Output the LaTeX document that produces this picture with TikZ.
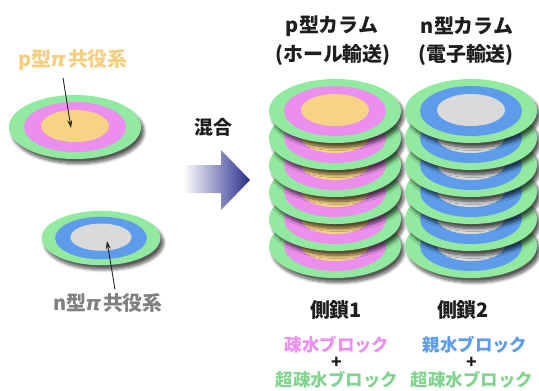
\documentclass[tikz,border=0pt]{standalone}
\usepackage{fontspec}
\newfontfamily\jp{Noto Sans CJK JP}
\newfontfamily\gk{DejaVu Sans}
\usetikzlibrary{arrows.meta,shadows.blur}

\definecolor{ring}{RGB}{146,234,160}
\definecolor{hole}{RGB}{236,142,238}
\definecolor{core}{RGB}{247,212,132}
\definecolor{elec}{RGB}{92,156,234}
\definecolor{gcore}{RGB}{218,218,218}
\definecolor{arrowblue}{RGB}{40,46,140}
\definecolor{ptext}{RGB}{245,206,128}
\definecolor{ntext}{RGB}{128,128,128}
\definecolor{darktext}{RGB}{30,30,30}

\newcommand\pisym{\kern-1bp{\gk\itshape π}\kern2bp}

\tikzset{
  tag/.style={font=\jp\bfseries\fontsize{#1}{#1}\selectfont, inner sep=1bp},
  pointer/.style={draw=black!85, line width=0.9bp, -{Stealth[length=8bp,width=5bp]}},
  pics/disk/.style 2 args={code={
    \fill[ring, blur shadow={shadow xshift=3bp, shadow yshift=-4.5bp,
      shadow blur steps=8, shadow blur radius=3bp, shadow opacity=65}]
      (0,0) ellipse [x radius=66bp, y radius=32bp];
    \fill[#1] (0,0) ellipse [x radius=51bp, y radius=25bp];
    \fill[#2] (0,-1) ellipse [x radius=34bp, y radius=16bp];
  }}
}

\begin{document}
\begin{tikzpicture}[x=1bp, y=-1bp]
\useasboundingbox (0,0) rectangle (539,390);

% the two single molecules
\pic at (75,127) {disk={hole}{core}};
\pic[xscale=.9, yscale=.85] at (101,238) {disk={elec}{gcore}};
\coordinate (pcore) at (71,128);
\coordinate (ncore) at (107,241);
\node[tag=20, text=ptext] (ptag) at (73,60) {p型\pisym 共役系};
\node[tag=20, text=ntext] (ntag) at (108,303) {n型\pisym 共役系};
\draw[pointer] ([xshift=-10bp,yshift=-6bp]ptag.south) -- (pcore);
\draw[pointer] ([xshift=7bp,yshift=3bp]ntag.north) -- (ncore);

% mixing arrow
\shade[left color=white, right color=arrowblue]
  (183,165) -- (221,165) -- (221,150) -- (250,180) -- (221,210) -- (221,193) -- (183,193) -- cycle;
\node[tag=19, text=darktext] (mix) at (213,127) {混合};

% stacked columns, bottom disk first
\foreach \k in {5,4,...,0} {
  \pic at (335,111+27*\k) {disk={hole}{core}};
  \pic at (471,111+27*\k) {disk={elec}{gcore}};
}

\node[tag=20, text=darktext] (ptitle) at (332,26) {p型カラム};
\node[tag=20, text=darktext] (psub) at (333,55) {(ホール輸送)};
\node[tag=20, text=darktext] (ntitle) at (467,26) {n型カラム};
\node[tag=20, text=darktext] (nsub) at (466,55) {(電子輸送)};

% side chains
\node[tag=20, text=darktext] (chain1) at (336,310) {側鎖1};
\node[tag=20, text=darktext] (chain2) at (463,310) {側鎖2};
\node[tag=17.5, text=hole] (phobic) at (337,345) {疎水ブロック};
\node[tag=17.5, text=darktext] (plus1) at (337,363) {+};
\node[tag=17.5, text=ring!90!black] (super1) at (337,380) {超疎水ブロック};
\node[tag=17.5, text=elec] (philic) at (475,345) {親水ブロック};
\node[tag=17.5, text=darktext] (plus2) at (472,363) {+};
\node[tag=17.5, text=ring!90!black] (super2) at (472,380) {超疎水ブロック};
\end{tikzpicture}
\end{document}
